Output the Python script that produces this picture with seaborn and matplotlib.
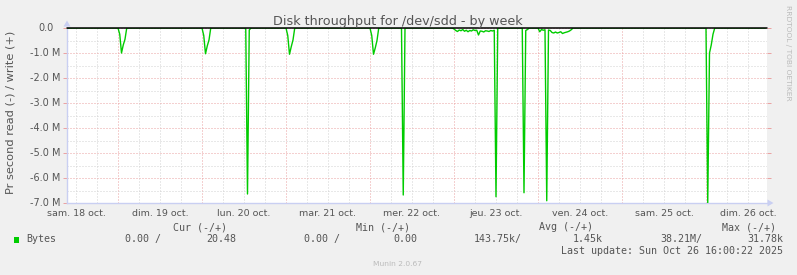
import matplotlib
matplotlib.use("Agg")
import matplotlib.pyplot as plt
import matplotlib.transforms as mtransforms
from matplotlib.patches import Polygon, Rectangle
from matplotlib.ticker import FixedLocator, MultipleLocator
import pandas as pd
import seaborn as sns

# ---------------- data (hours since Sat 18 Oct 2025 00:00, read in MB/s, negative = read) ----
hours = [9.5,
         24.0, 24.5, 25.0, 25.5, 26.0, 26.5,
         48.0, 48.5, 49.0, 49.5, 50.0, 50.5,
         60.5, 61.0, 61.5, 62.0,
         72.0, 72.5, 73.0, 73.5, 74.0, 74.5,
         96.0, 96.5, 97.0, 97.5, 98.0, 98.5,
         105.0, 105.5, 106.0,
         119.5, 120.0, 120.5, 121.0, 121.5, 122.0, 122.5, 123.0, 123.5, 124.0, 124.5,
         125.0, 125.5, 126.0, 126.5, 127.0, 127.5, 128.0, 128.5, 129.0, 129.5, 130.0,
         130.5, 131.0, 131.5, 132.0, 132.5,
         139.5, 140.0, 140.5, 141.0, 141.5,
         144.0, 144.5, 145.0, 145.5, 146.0, 146.5, 147.0, 147.5, 148.0, 148.5, 149.0,
         149.5, 150.0, 150.5, 151.0, 151.5, 152.0, 152.5, 153.0, 153.5, 154.0,
         192.0, 192.5, 193.0, 193.5, 194.0, 194.5,
         209.0]
read_mb = [0.0,
           0.0, -0.25, -1.00, -0.68, -0.45, 0.0,
           0.0, -0.30, -1.03, -0.72, -0.48, 0.0,
           0.0, -6.64, -0.08, 0.0,
           0.0, -0.30, -1.05, -0.75, -0.48, 0.0,
           0.0, -0.30, -1.05, -0.80, -0.50, 0.0,
           0.0, -6.68, 0.0,
           0.0, -0.04, -0.10, -0.14, -0.08, -0.11, -0.06, -0.13, -0.09, -0.15, -0.10,
           -0.12, -0.07, -0.10, -0.09, -0.28, -0.12, -0.13, -0.16, -0.11, -0.12, -0.14,
           -0.10, -0.12, -0.09, -6.75, 0.0,
           0.0, -6.59, -0.10, -0.06, 0.0,
           0.0, -0.15, -0.06, -0.09, -0.07, -6.91, -0.08, -0.10, -0.18, -0.20, -0.16,
           -0.20, -0.18, -0.15, -0.22, -0.19, -0.17, -0.15, -0.12, -0.07, 0.0,
           0.0, -6.99, -1.00, -0.68, -0.25, 0.0,
           0.0]

day_labels = ["sam. 18 oct.", "dim. 19 oct.", "lun. 20 oct.", "mar. 21 oct.", "mer. 22 oct.",
              "jeu. 23 oct.", "ven. 24 oct.", "sam. 25 oct.", "dim. 26 oct."]
ytick_values = [0, -1, -2, -3, -4, -5, -6, -7]
ytick_labels = ["0.0", "-1.0 M", "-2.0 M", "-3.0 M", "-4.0 M", "-5.0 M", "-6.0 M", "-7.0 M"]

title = "Disk throughput for /dev/sdd - by week"
ylabel = "Pr second read (-) / write (+)"
series_name = "Bytes"
col_headers = ["Cur (-/+)", "Min (-/+)", "Avg (-/+)", "Max (-/+)"]
col_values = ["0.00 /", "20.48", "0.00 /", "0.00", "143.75k/", "1.45k", "38.21M/", "31.78k"]
last_update = "Last update: Sun Oct 26 16:00:22 2025"
footer = "Munin 2.0.67"
side_text = "RRDTOOL / TOBI OETIKER"

# ---------------- style ----------------
sns.set_style("white")
plt.rcParams["font.family"] = ["DejaVu Sans"]

W, H = 797, 275
BG = "#F0F0F0"
TXT = "#555555"
GREEN = "#00CC00"
MGRID = "#EBA3A3"
GRID = "#D2D2D2"
AXISC = "#C9CFF2"

fig = plt.figure(figsize=(W / 100, H / 100), dpi=100, facecolor=BG)
PX = mtransforms.Affine2D().scale(1.0 / W, -1.0 / H).translate(0, 1) + fig.transFigure

L, R, T, B = 67, 767, 28, 203
ax = fig.add_axes([L / W, 1 - B / H, (R - L) / W, (B - T) / H])
ax.set_facecolor("white")

df = pd.DataFrame({"hour": hours, "read": read_mb})
sns.lineplot(data=df, x="hour", y="read", ax=ax, color=GREEN, lw=1.0,
             estimator=None, sort=False, zorder=3)
ax.axhline(0, color="black", lw=1.1, zorder=4, clip_on=False)

ax.set_xlim(9.43, 209.43)
ax.set_ylim(-7, 0)
ax.set_xlabel("")
ax.set_ylabel("")

ax.xaxis.set_major_locator(MultipleLocator(24))
ax.xaxis.set_minor_locator(MultipleLocator(6))
ax.yaxis.set_major_locator(FixedLocator(ytick_values))
ax.yaxis.set_minor_locator(MultipleLocator(0.5))
ax.set_axisbelow(True)
ax.grid(which="minor", color=GRID, linestyle=(0, (1, 2)), lw=0.72)
ax.grid(which="major", color=MGRID, linestyle=(0, (1, 2)), lw=0.72)
ax.tick_params(which="both", labelbottom=False, labelleft=False)
ax.tick_params(axis="x", which="major", direction="out", length=3, width=0.72, color=MGRID)
ax.tick_params(axis="x", which="minor", length=0)
ax.tick_params(axis="y", which="major", direction="out", length=3, width=0.72, color=MGRID,
               left=True, right=True)
ax.tick_params(axis="y", which="minor", length=0)

for side in ["top", "right"]:
    ax.spines[side].set_visible(False)
for side in ["left", "bottom"]:
    ax.spines[side].set_color(AXISC)
    ax.spines[side].set_linewidth(1.0)

# axis arrows
fig.patches.append(Polygon([[63.5, 26.5], [70.5, 26.5], [67, 20.5]], closed=True,
                           transform=PX, facecolor=AXISC, edgecolor="none"))
fig.patches.append(Polygon([[767.5, 199.5], [767.5, 206.5], [773.5, 203]], closed=True,
                           transform=PX, facecolor=AXISC, edgecolor="none"))

# x labels at noon of each day
xlab_tr = mtransforms.blended_transform_factory(ax.transData, PX)
for i, lab in enumerate(day_labels):
    ax.text(12 + 24 * i, 216, lab, transform=xlab_tr, ha="center", va="baseline",
            fontsize=6.8, color=TXT, clip_on=False)

# y labels
ylab_tr = mtransforms.blended_transform_factory(PX, ax.transData)
for v, lab in zip(ytick_values, ytick_labels):
    xr = 60.5 if lab.endswith("M") else 53.5
    ax.text(xr, v, lab, transform=ylab_tr, ha="right", va="center",
            fontsize=7.0, color=TXT, clip_on=False)

# title and axis label
fig.text(398, 24.5, title, transform=PX, ha="center", va="baseline", fontsize=9.2, color=TXT)
fig.text(10.5, 112, ylabel, transform=PX, ha="center", va="center", rotation=90,
         fontsize=8.2, color=TXT)

# side text
fig.text(788, 53, side_text, transform=PX, ha="center", va="center", rotation=270,
         fontsize=5.4, color="#BBBBBB")

# legend
MONO = "DejaVu Sans Mono"
fig.patches.append(Rectangle((14, 237), 5.5, 5.5, transform=PX, facecolor=GREEN,
                             edgecolor="none"))
fig.text(26.5, 242.3, series_name, transform=PX, ha="left", va="baseline",
         family=MONO, fontsize=7.2, color=TXT)
for cx, h in zip([200, 383.5, 566.3, 749.3], col_headers):
    fig.text(cx, 230.5, h, transform=PX, ha="center", va="baseline",
             family=MONO, fontsize=7.2, color=TXT)
for rx, v in zip([161, 236, 340.5, 417, 522, 602.5, 702.5, 783], col_values):
    fig.text(rx, 242.3, v, transform=PX, ha="right", va="baseline",
             family=MONO, fontsize=7.2, color=TXT)
fig.text(783, 254, last_update, transform=PX, ha="right", va="baseline",
         family=MONO, fontsize=7.2, color=TXT)
fig.text(398, 266.5, footer, transform=PX, ha="center", va="baseline",
         fontsize=5.4, color="#BBBBBB")

fig.savefig("out.png", dpi=100, facecolor=BG)
